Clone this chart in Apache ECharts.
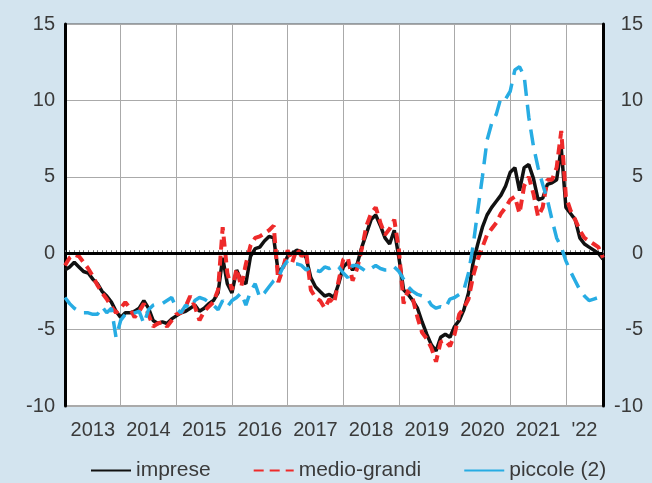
<!DOCTYPE html>
<html>
<head>
<meta charset="utf-8">
<script src="https://cdn.jsdelivr.net/npm/echarts@6/dist/echarts.min.js"></script>
<style>
  html, body { margin: 0; padding: 0; background: #d3e4ef; }
  #chart { width: 652px; height: 483px; }
</style>
</head>
<body>
<div id="chart"></div>
<script>
// mesi da gen 2013 a set 2022
const months = []
for (let y = 2013; y <= 2022; y++) {
  for (let m = 1; m <= 12; m++) {
    if (y === 2022 && m > 9) break
    months.push(y + '-' + (m < 10 ? '0' + m : m))
  }
}

const yearLabels = ['2013', '2014', '2015', '2016', '2017', '2018', '2019', '2020', '2021', "'22"]
const labelIndex = [6, 18, 30, 42, 54, 66, 78, 90, 102, 112]

const imprese = [
  -1.1, -0.9, -0.6, -0.9, -1.2, -1.3, -1.7, -2.0, -2.5, -2.8, -3.2, -3.8,
  -4.2, -3.9, -3.9, -3.8, -3.6, -3.1, -3.6, -4.4, -4.6, -4.5, -4.6, -4.3,
  -4.1, -3.9, -3.8, -3.6, -3.4, -3.8, -3.6, -3.3, -3.1, -2.6, -0.3, -2.0,
  -2.6, -1.1, -1.8, -2.0, -0.2, 0.3, 0.4, 0.8, 1.1, 1.0, -1.3, -0.9,
  -0.2, 0.0, 0.2, 0.1, -0.3, -1.6, -2.2, -2.5, -2.8, -2.7, -2.9, -2.0,
  -0.9, -0.6, -1.1, -0.7, 0.4, 1.3, 2.2, 2.5, 1.8, 1.0, 0.6, 1.5,
  -0.3, -2.4, -2.7, -3.1, -3.6, -4.5, -5.3, -6.0, -6.4, -5.5, -5.3, -5.5,
  -4.8, -4.4, -3.7, -2.6, -0.6, 0.6, 1.7, 2.5, 3.0, 3.4, 3.8, 4.4,
  5.3, 5.6, 4.1, 5.6, 5.8, 4.9, 3.5, 3.6, 4.5, 4.6, 4.8, 6.9,
  3.0, 2.6, 2.2, 1.0, 0.6, 0.4, 0.2, 0.0, -0.4
]

const medioGrandi = [
  -0.8, -0.3, -0.1, -0.2, -0.6, -1.0, -1.5, -2.1, -2.6, -3.0, -3.5, -3.9,
  -3.6, -3.2, -3.6, -4.2, -3.8, -3.3, -4.0, -4.8, -4.6, -4.5, -4.8, -4.4,
  -4.0, -3.9, -3.5, -2.8, -3.5, -4.4, -3.8, -3.5, -3.2, -2.4, 1.7, -1.3,
  -2.4, -1.0, -2.2, -0.7, 0.5, 1.0, 1.1, 1.3, 1.5, 1.8, -1.9, -1.0,
  0.2, -0.6, 0.3, -0.2, 0.1, -2.4, -2.9, -3.1, -3.6, -3.0, -3.3, -1.8,
  -0.4, -0.3, -1.8, -1.0, 0.3, 1.8, 2.6, 3.0, 2.0, 1.2, 1.6, 2.2,
  0.2, -3.3, -2.4, -3.0, -4.2, -5.2, -5.6, -6.2, -7.1, -5.8, -5.7, -6.1,
  -5.3, -4.0, -3.6, -3.0, -1.5, -0.4, 0.4, 1.2, 1.6, 2.0, 2.6, 3.0,
  3.5, 3.7, 2.6, 4.4, 5.0, 3.9, 2.4, 3.0, 4.8, 4.8, 5.6, 8.0,
  3.7, 2.8, 2.2, 1.5, 1.0, 0.8, 0.6, 0.4, -0.3
]

const piccole = [
  -2.9, -3.3, -3.6, -3.8, -3.9, -3.9, -4.0, -4.0, -3.5, -3.9, -3.6, -5.5,
  -4.4, -4.0, -4.0, -3.9, -3.8, -4.6, -3.7, -3.4, -3.3, -3.3, -3.1, -2.9,
  -3.6, -3.9, -3.4, -3.6, -3.1, -2.9, -3.0, -3.2, -3.4, -3.7, -3.1, -3.5,
  -3.1, -2.9, -2.6, -3.4, -2.5, -2.0, -2.9, -2.6, -2.2, -1.8, -1.6, -0.9,
  -0.5, -0.7, -0.7, -0.8, -1.1, -0.9, -1.1, -1.2, -0.9, -1.0, -0.8, -0.9,
  -1.3, -1.6, -0.8, -0.8, -1.0, -1.2, -1.0, -0.8, -1.0, -1.1, -1.1, -0.9,
  -1.2, -1.7, -2.2, -2.5, -2.7, -2.8, -2.9, -3.4, -3.6, -3.5, -3.6, -3.0,
  -2.9, -2.7, -2.4, -1.3, 0.5, 2.8, 5.0, 7.4, 8.5, 9.1, 10.2, 10.1,
  10.6, 12.0, 12.2, 11.6, 8.9, 7.0, 5.6, 4.5, 3.5, 2.2, 1.0, 0.4,
  -0.5, -1.2, -1.8, -2.4, -2.8, -3.1, -3.0, -2.9, -2.9
]

const chart = echarts.init(document.getElementById('chart'))
const txt = '#3a3a3a'
const font = 'Liberation Sans, Arial, sans-serif'

const yAxisCommon = {
  type: 'value',
  min: -10,
  max: 15,
  interval: 5,
  axisLine: { show: true, lineStyle: { color: '#000', width: 3 } },
  axisTick: { show: false },
  axisLabel: { color: txt, fontSize: 20, fontFamily: font }
}

chart.setOption({
  backgroundColor: '#d3e4ef',
  animation: false,
  grid: {
    left: 65, right: 49, top: 24, bottom: 77,
    show: true, backgroundColor: '#fff', borderColor: '#555', borderWidth: 1
  },
  legend: {
    top: 455,
    left: 85,
    itemWidth: 40,
    itemHeight: 20,
    itemGap: 42,
    itemStyle: { opacity: 0 },
    textStyle: { color: txt, fontSize: 21, fontFamily: font },
    data: [
      { name: 'imprese' },
      { name: 'medio-grandi' },
      { name: 'piccole (2)', lineStyle: { type: 'solid' } }
    ]
  },
  xAxis: {
    type: 'category',
    data: months,
    boundaryGap: false,
    axisLine: { lineStyle: { color: '#000', width: 2 } },
    axisTick: { inside: true, length: 3, interval: 0, lineStyle: { color: '#777' } },
    splitLine: {
      show: true,
      interval: function (i) { return i > 0 && i % 12 === 0 },
      lineStyle: { color: '#aaa', width: 1 }
    },
    axisLabel: {
      interval: function (i) { return labelIndex.indexOf(i) >= 0 },
      formatter: function (v, i) { return yearLabels[labelIndex.indexOf(i)] },
      color: txt, fontSize: 20, fontFamily: font, margin: 14
    }
  },
  yAxis: [
    Object.assign({}, yAxisCommon, {
      position: 'left',
      splitLine: { show: true, lineStyle: { color: '#aaa', width: 1 } },
      axisLabel: Object.assign({}, yAxisCommon.axisLabel, { margin: 10 })
    }),
    Object.assign({}, yAxisCommon, {
      position: 'right',
      splitLine: { show: false },
      axisLabel: Object.assign({}, yAxisCommon.axisLabel, { margin: 40, align: 'right' })
    })
  ],
  series: [
    {
      name: 'imprese',
      type: 'line',
      data: imprese,
      symbol: 'none',
      color: '#111',
      lineStyle: { color: '#111', width: 3.5 },
      z: 3,
      markLine: {
        silent: true,
        symbol: 'none',
        label: { show: false },
        lineStyle: { color: '#000', width: 3, type: 'solid' },
        data: [{ yAxis: 0 }]
      }
    },
    {
      name: 'medio-grandi',
      type: 'line',
      data: medioGrandi,
      symbol: 'none',
      color: '#ee2a2a',
      lineStyle: { color: '#ee2a2a', width: 4, type: [10, 6] },
      z: 4
    },
    {
      name: 'piccole (2)',
      type: 'line',
      data: piccole,
      symbol: 'none',
      color: '#27ace3',
      lineStyle: { color: '#27ace3', width: 3.5, type: [16, 9] },
      z: 5
    }
  ]
})
</script>
</body>
</html>
